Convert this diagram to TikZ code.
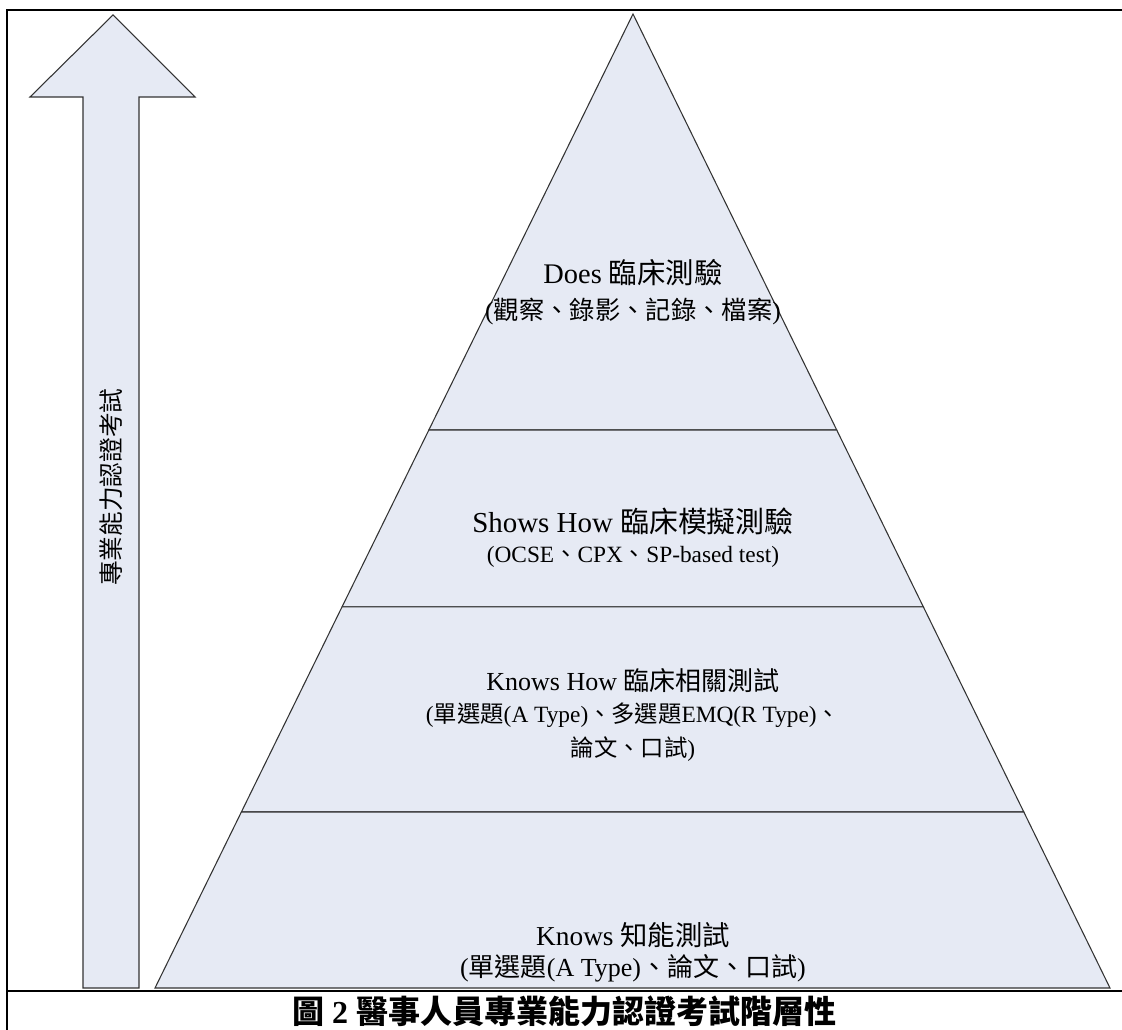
\documentclass[tikz,border=0pt]{standalone}
\usepackage{fontspec}
\setmainfont{Liberation Serif}
\newfontfamily\cjk{Noto Sans CJK TC}
\usepackage{tikz}
\usetikzlibrary{calc,positioning}

\definecolor{bandfill}{RGB}{230,234,244}
\newcommand{\zh}[1]{{\cjk #1}}
\newcommand{\fsz}[1]{\fontsize{#1}{#1}\selectfont}

\tikzset{
  band/.style={fill=bandfill, draw=black!80, line width=0.8pt, line join=miter},
  frame/.style={line width=2pt},
  label/.style={inner sep=0pt}
}

\begin{document}
\begin{tikzpicture}[x=0.75pt,y=-0.75pt]
            \useasboundingbox (0,0) rectangle (1122,1030);
            % frame
            \draw[frame] (7,1030) -- (7,10) -- (1122,10);
            \draw[frame] (7,991) -- (1122,991);

            % rising arrow
            \draw[band] (113,15) -- (195,97) -- (139,97) -- (139,988)
                -- (83,988) -- (83,97) -- (30,97) -- cycle;
            \node[rotate=90, font=\fsz{18.5}] (skill) at (111,487) {\zh{專業能力認證考試}};

            % pyramid bands
            \coordinate (apex) at (633,14);
            \coordinate (bl) at (155,988);
            \coordinate (br) at (1110,988);
            \foreach \a/\b in {0/0.4271, 0.4271/0.6088, 0.6088/0.8193, 0.8193/1}
              \draw[band] ($(apex)!\a!(bl)$) -- ($(apex)!\b!(bl)$)
                -- ($(apex)!\b!(br)$) -- ($(apex)!\a!(br)$) -- cycle;

            % labels
            \node[label, font=\fsz{21.3}] (does) at (633,273) {Does \zh{臨床測驗}};
            \node[label, font=\fsz{19}] (doesSub) at (633,311) {(\zh{觀察、錄影、記錄、檔案})};

            \node[label, font=\fsz{21.7}] (shows) at (633,521) {Shows How \zh{臨床模擬測驗}};
            \node[label, font=\fsz{17.5}] (showsSub) at (633,557) {(OCSE\zh{、}CPX\zh{、}SP-based test)};

            \node[label, font=\fsz{19.5}] (knowsHow) at (633,681) {Knows How \zh{臨床相關測試}};
            \node[label, font=\fsz{17.5}] (knowsHowSub) at (633,715) {(\zh{單選題}(A Type)\zh{、多選題}EMQ(R Type)\zh{、}};
            \node[label, font=\fsz{17.5}] (knowsHowEnd) at (633,749) {\zh{論文、口試})};

            \node[label, font=\fsz{20.5}] (knows) at (633,935) {Knows \zh{知能測試}};
            \node[label, font=\fsz{19.5}] (knowsSub) at (633,968) {(\zh{單選題}(A Type)\zh{、論文、口試})};

            % caption
            \node[font=\bfseries\fsz{24}] (caption) at (564,1011)
              {\zh{圖} 2 \zh{醫事人員專業能力認證考試階層性}};
\end{tikzpicture}
\end{document}
